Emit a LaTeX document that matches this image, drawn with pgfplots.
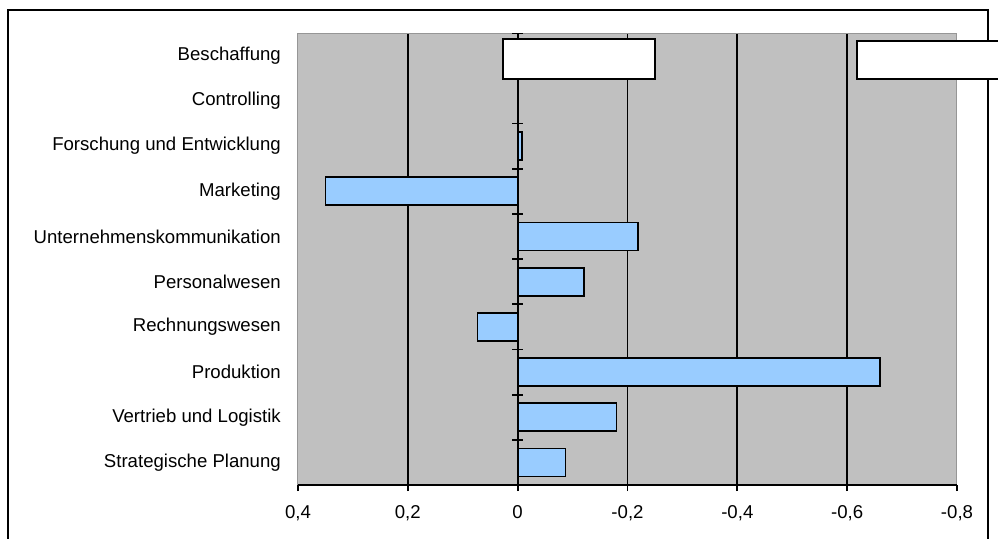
\documentclass[border=0pt]{standalone}
\usepackage{pgfplots}
\pgfplotsset{compat=1.18}
\usepackage{fontspec}
\setmainfont{Liberation Sans}
\definecolor{plotgray}{RGB}{192,192,192}
\definecolor{edgegray}{RGB}{150,150,150}
\definecolor{barblue}{RGB}{153,204,255}
\begin{document}
\begin{tikzpicture}[x=1pt,y=1pt]
\useasboundingbox (0,0) rectangle (998,538);
\clip (0,0) rectangle (998,538);
\fill[white] (0,0) rectangle (998,538);
\draw[line width=1.6pt] (8,-5) -- (8,528) -- (988,528) -- (988,-5);
\begin{axis}[
  at={(298pt,53pt)}, anchor=south west,
  scale only axis, width=659pt, height=452pt,
  xbar, bar width=28pt,
  x dir=reverse, xmin=-0.8, xmax=0.4,
  y dir=reverse, ymin=0.5, ymax=10.5,
  axis background/.style={fill=plotgray},
  axis line style={draw=edgegray, line width=1pt},
  xtick={-0.6,-0.4,-0.2,0,0.2},
  extra x ticks={-0.8,0.4},
  extra x tick style={grid=none},
  xmajorgrids, grid style={black, line width=1.8pt},
  xtick pos=bottom, tick align=outside, major tick length=6pt,
  xtick style={black, line width=1.8pt},
  ytick={1,...,10},
  yticklabels={Beschaffung,Controlling,Forschung und Entwicklung,Marketing,Unternehmenskommunikation,Personalwesen,Rechnungswesen,Produktion,Vertrieb und Logistik,Strategische Planung},
  ytick style={draw=none},
  tick label style={font=\fontsize{18.6}{21}\selectfont},
  yticklabel style={anchor=east, inner sep=0pt, xshift=-11pt},
  xticklabel style={anchor=north, inner sep=0pt, yshift=-14pt},
  /pgf/number format/.cd, use comma, fixed, precision=1, assume math mode=true,
]
\addplot[fill=barblue, draw=black, line width=1.8pt] coordinates {
  (-0.008,3) (0.350,4) (-0.219,5) (-0.121,6) (0.073,7) (-0.660,8) (-0.180,9) (-0.087,10)
};
\draw[black, line width=1.8pt] (axis cs:-0.8,10.5) -- (axis cs:0.4,10.5);
\pgfplotsinvokeforeach{0.5,1.5,2.5,3.5,4.5,5.5,6.5,7.5,8.5,9.5}{
  \draw[black, line width=1.8pt] ([xshift=-5.5pt]axis cs:0,#1) -- ([xshift=5.5pt]axis cs:0,#1);
}
\end{axis}
\draw[fill=white, line width=1.6pt] (503,459) rectangle (655,499);
\draw[fill=white, line width=1.6pt] (857,459) rectangle (1010,497);
\end{tikzpicture}
\end{document}
